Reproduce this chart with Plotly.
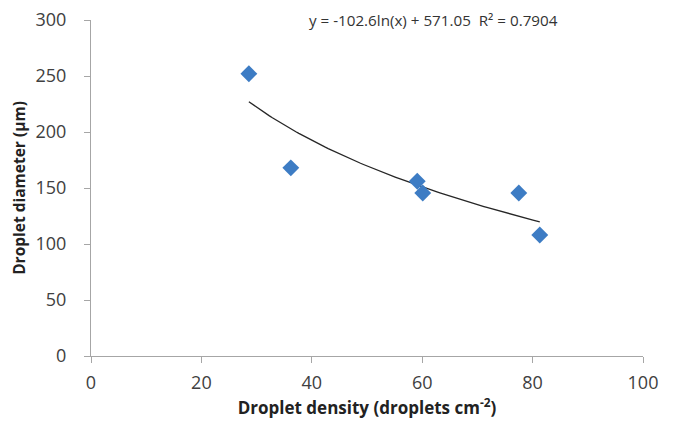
import numpy as np
import plotly.graph_objects as go

density = [28.6, 36.2, 59.1, 60.1, 77.5, 81.3]
diameter = [252, 168, 156, 145.5, 145.5, 108]
coef_a = -102.6
coef_b = 571.05
r2 = 0.7904

xt = np.linspace(min(density), max(density), 100)
yt = coef_a * np.log(xt) + coef_b

fig = go.Figure()
fig.add_trace(go.Scatter(x=xt, y=yt, mode="lines",
                         line=dict(color="#262626", width=1.3), showlegend=False, hoverinfo="skip"))
fig.add_trace(go.Scatter(x=density, y=diameter, mode="markers",
                         marker=dict(symbol="diamond", size=13, color="#3D7CC4"), showlegend=False))

fig.add_annotation(x=0.62, y=1.0, xref="paper", yref="paper", xanchor="center", yanchor="middle",
                   text=f"y = {coef_a}ln(x) + {coef_b}  R² = {r2}", showarrow=False,
                   font=dict(family="Open Sans", size=15.2, color="#333333"))

fig.update_layout(
    width=666, height=413,
    margin=dict(l=83, r=31, t=12, b=65),
    paper_bgcolor="white", plot_bgcolor="white",
    font=dict(family="Open Sans", color="#333333"),
)
fig.update_xaxes(range=[0, 100], dtick=20, showline=True, linecolor="#A6A6A6", linewidth=1,
                 ticks="outside", ticklen=6, tickcolor="#A6A6A6", showgrid=False, zeroline=False,
                 automargin=False, ticklabelstandoff=4, ticklabeloverflow="allow",
                 tickfont=dict(size=18, color="#404040"),
                 title=dict(text="<b>Droplet density (droplets cm<sup>-2</sup>)</b>", standoff=6,
                            font=dict(size=17, color="#222222", family="Open Sans")))
fig.update_yaxes(range=[0, 300], dtick=50, showline=True, linecolor="#A6A6A6", linewidth=1,
                 ticks="outside", ticklen=6, tickcolor="#A6A6A6", showgrid=False, zeroline=False,
                 automargin=False, ticklabelstandoff=14, ticklabeloverflow="allow",
                 tickfont=dict(size=18, color="#404040"),
                 title=dict(text="<b>Droplet diameter (μm)</b>", standoff=6,
                            font=dict(size=15.5, color="#222222", family="Open Sans")))
fig.write_html("out.html")
